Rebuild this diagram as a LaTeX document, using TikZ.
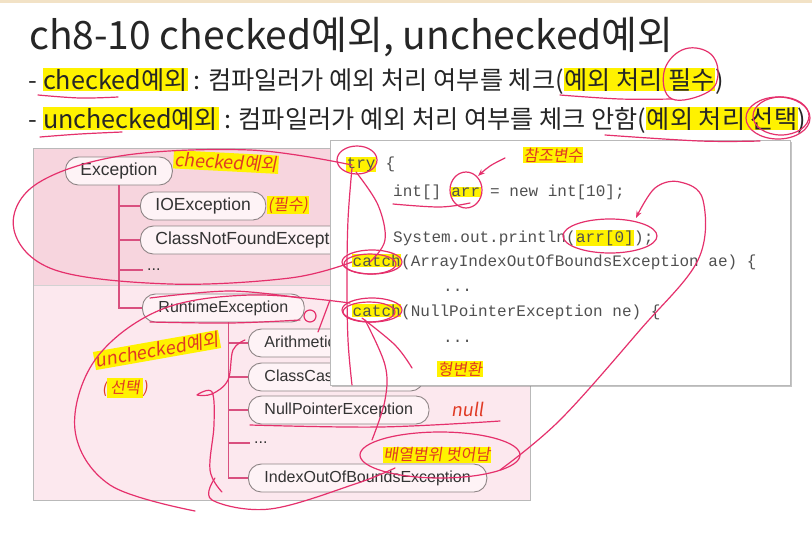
\documentclass[tikz,border=0pt]{standalone}
\usepackage{fontspec}
\setmainfont{Noto Sans CJK KR}
\newfontfamily\treefont{Liberation Sans}
\newfontfamily\codefont{Liberation Mono}
\newfontfamily\handfont[FakeSlant=0.15]{Noto Sans CJK KR}
\usetikzlibrary{arrows.meta,shadows}
\definecolor{hl}{HTML}{FFF200}
\definecolor{pen}{HTML}{E5306C}
\definecolor{ink}{HTML}{E03A24}
\definecolor{pinkA}{HTML}{F7D5DE}
\definecolor{pinkB}{HTML}{FCE8EE}
\definecolor{treeline}{HTML}{D9507F}
\definecolor{pillborder}{HTML}{8E8586}
\definecolor{codegray}{HTML}{505050}
\definecolor{strip}{HTML}{F2E2C6}
\newcommand{\hlt}[1]{{\setlength{\fboxsep}{0.5pt}\colorbox{hl}{#1}}}
\tikzset{
  pill/.style={draw=pillborder, line width=0.9pt, fill=pinkB!50!white,
    rounded corners=13pt, minimum height=28pt, inner xsep=16pt, inner ysep=0pt,
    font=\treefont\fontsize{16}{16}\selectfont, text=black!80, anchor=west},
  bigpill/.style={pill, inner xsep=15pt, font=\treefont\fontsize{17.5}{17.5}\selectfont},
  dotsnode/.style={anchor=west, inner xsep=4pt, font=\treefont\fontsize{16}{16}\selectfont, text=black!80},
  treeedge/.style={draw=treeline, line width=1.6pt},
  codeline/.style={anchor=base west, inner sep=0pt, font=\codefont\fontsize{16}{16}\selectfont, text=codegray},
  bullet/.style={anchor=base west, inner sep=0pt, font=\fontsize{25.2}{25.2}\selectfont, text=black!85},
  hand/.style={font=\handfont\fontsize{16}{16}\selectfont, text=ink, inner sep=1pt},
  handhl/.style={hand, fill=hl},
  pen/.style={draw=pen, line width=1.2pt, line cap=round, line join=round},
}
\begin{document}
\begin{tikzpicture}[x=1pt,y=-1pt]
\useasboundingbox (0,0) rectangle (812,539);
\fill[white] (0,0) rectangle (812,539);
\fill[strip] (0,0) rectangle (812,3);

% title and bullets
\node[anchor=base west, inner sep=0pt, font=\fontsize{39}{39}\selectfont, text=black!85] (title) at (29,49) {ch8-10 checked예외, unchecked예외};
\node[bullet] (b1) at (28,89) {- \hlt{checked예외} : 컴파일러가 예외 처리 여부를 체크(\hlt{예외 처리 필수})};
\node[bullet] (b2) at (28,128) {- \hlt{unchecked예외} : 컴파일러가 예외 처리 여부를 체크 안함(\hlt{예외 처리 선택})};

% pink panel
\fill[pinkA] (33,148) rectangle (530,285);
\fill[pinkB] (33,285) rectangle (530,500);
\draw[gray!35, line width=1pt] (33,285) -- (530,285);
\draw[gray!55, line width=1pt] (33,148) rectangle (530,500);

% tree
\node[bigpill] (exc) at (65,171) {Exception};
\node[bigpill] (io) at (140,206) {IOException};
\node[bigpill] (cnf) at (140,240) {ClassNotFoundException};
\node[dotsnode] (d1) at (143,270) {...};
\node[pill] (rt) at (142,308) {RuntimeException};
\node[pill] (ar) at (248,343) {ArithmeticException};
\node[pill] (cc) at (248,377) {ClassCastException};
\node[pill] (np) at (248,410) {NullPointerException};
\node[dotsnode] (d2) at (250,443) {...};
\node[pill] (ib) at (248,478) {IndexOutOfBoundsException};
\foreach \c in {io,cnf,d1,rt} \draw[treeedge] (exc.south) |- (\c.west);
\foreach \c in {ar,cc,np,d2,ib} \draw[treeedge] ([xshift=5pt]rt.south) |- (\c.west);

% code box
\node[draw=gray!55, fill=white, line width=0.8pt, minimum width=460pt, minimum height=245pt,
  anchor=north west, drop shadow={shadow xshift=2pt, shadow yshift=-2pt, opacity=0.45}] (codebox) at (330,140) {};
\node[codeline] (c1) at (346,168) {\hlt{try} \{};
\node[codeline] (c2) at (393,196) {int[] \hlt{arr} = new int[10];};
\node[codeline] (c3) at (393,242) {System.out.println(\hlt{arr[0]});};
\node[codeline] (c4) at (352,266) {\hlt{catch}(ArrayIndexOutOfBoundsException ae) \{};
\node[codeline] (c5) at (443,291) {...};
\node[codeline] (c6) at (352,316) {\hlt{catch}(NullPointerException ne) \{};
\node[codeline] (c7) at (443,342) {...};

% handwritten notes
\node[handhl, rotate=-3, font=\handfont\fontsize{18}{18}\selectfont] (hw1) at (226,162) {checked예외};
\node[handhl] (hw2) at (288,205) {(필수)};
\node[handhl, rotate=10, font=\handfont\fontsize{18}{18}\selectfont] (hw3) at (157,350) {unchecked예외};
\node[hand] (hw4) at (125,388) {(\colorbox{hl}{선택})};
\node[handhl] (hw5) at (553,155) {참조변수};
\node[handhl] (hw6) at (460,369) {형변환};
\node[hand, font=\handfont\fontsize{18}{18}\selectfont] (hw7) at (468,409) {null};
\node[handhl] (hw8) at (437,455) {배열범위 벗어남};

\coordinate (arrpt) at (478,176);
\coordinate (arr0pt) at (636,218);

% pen strokes
\draw[pen] plot[smooth, tension=.6] coordinates {(38,95) (80,98) (118,97)};
\draw[pen] plot[smooth, tension=.6] coordinates {(40,137) (80,134) (122,132)};
\draw[pen] plot[smooth, tension=.6] coordinates {(560,95) (620,99) (672,99)};
\draw[pen] plot[smooth cycle, tension=.7] coordinates {(672,99) (664,72) (682,50) (708,52) (718,72) (708,92)};
\draw[pen] plot[smooth, tension=.6] coordinates {(605,135) (700,141) (760,141)};
\draw[pen] (778,118) ellipse [x radius=32, y radius=21];
\draw[pen] (781,116) ellipse [x radius=28, y radius=19];
% checked loop
\draw[pen] plot[smooth, tension=.6] coordinates {(352,165) (250,150) (120,156) (35,185) (14,230) (55,270) (170,284) (290,278) (352,262)};
% try / catch marks
\draw[pen] (357,160) ellipse [x radius=20, y radius=14];
\draw[pen] (372,262) ellipse [x radius=30, y radius=12];
\draw[pen] (370,264) ellipse [x radius=26, y radius=10];
\draw[pen] (372,310) ellipse [x radius=30, y radius=12];
\draw[pen] (369,312) ellipse [x radius=26, y radius=10];
\draw[pen] plot[smooth, tension=.6] coordinates {(352,168) (348,220) (347,280) (348,340) (352,385)};
\draw[pen] plot[smooth, tension=.6] coordinates {(356,172) (378,205) (385,240) (370,262)};
\draw[pen] plot[smooth, tension=.6] coordinates {(362,318) (395,345) (412,368)};
\draw[pen] plot[smooth, tension=.6] coordinates {(365,320) (385,365) (385,400) (372,440)};
% arr marks
\draw[pen] (466,190) ellipse [x radius=16, y radius=18];
\draw[pen] plot[smooth, tension=.6] coordinates {(393,204) (440,207) (470,203)};
\draw[pen, -{Stealth[length=7pt]}] plot[smooth, tension=.6] coordinates {(505,158) (490,166) (arrpt)} ;
\draw[pen] (610,236) ellipse [x radius=47, y radius=17];
\draw[pen, -{Stealth[length=7pt]}] plot[smooth, tension=.6] coordinates {(500,470) (560,420) (640,330) (698,260) (703,200) (680,182) (655,188) (arr0pt)};
% unchecked loop
\draw[pen] plot[smooth, tension=.6] coordinates {(350,303) (250,295) (160,310) (95,360) (75,430) (110,485) (195,511)};
\draw[pen] plot[smooth, tension=.6] coordinates {(150,298) (230,291) (300,298)};
\draw[pen] plot[smooth, tension=.6] coordinates {(150,322) (230,323) (300,320)};
\draw[pen] (310,316) circle [radius=6];
\draw[pen] (318,332) -- (330,300);
\draw[pen] plot[smooth, tension=.6] coordinates {(245,340) (233,350) (228,380) (212,394) (197,395) (212,392) (214,425) (210,470) (222,492)};
\draw[pen] plot[smooth, tension=.6] coordinates {(215,478) (212,500) (270,509) (355,484) (395,468)};
% null and range marks
\draw[pen] plot[smooth, tension=.6] coordinates {(250,425) (380,427) (500,421)};
\draw[pen] (440,455) ellipse [x radius=80, y radius=23];
\end{tikzpicture}
\end{document}
